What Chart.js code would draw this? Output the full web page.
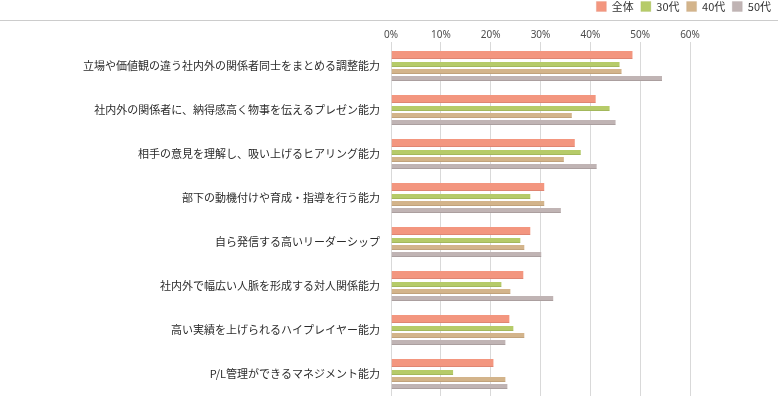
<!DOCTYPE html>
<html>
<head>
<meta charset="utf-8">
<script src="https://cdn.jsdelivr.net/npm/chart.js@4/dist/chart.umd.min.js"></script>
<style>
    html, body { margin: 0; padding: 0; background: #fff; }
    #wrap { width: 778px; height: 399px; }
</style>
</head>
<body>
<div id="wrap"><canvas id="myChart"></canvas></div>
<script>
const categories = [
    '立場や価値観の違う社内外の関係者同士をまとめる調整能力',
    '社内外の関係者に、納得感高く物事を伝えるプレゼン能力',
    '相手の意見を理解し、吸い上げるヒアリング能力',
    '部下の動機付けや育成・指導を行う能力',
    '自ら発信する高いリーダーシップ',
    '社内外で幅広い人脈を形成する対人関係能力',
    '高い実績を上げられるハイプレイヤー能力',
    'P/L管理ができるマネジメント能力'
];
const seriesNames = ['全体', '30代', '40代', '50代'];
const totalValues = [48.5, 41.1, 36.9, 30.8, 28.0, 26.6, 23.8, 20.6];
const age30Values = [45.9, 43.9, 38.1, 28.0, 26.0, 22.2, 24.6, 12.5];
const age40Values = [46.3, 36.3, 34.7, 30.8, 26.8, 24.0, 26.8, 23.0];
const age50Values = [54.4, 45.1, 41.3, 34.1, 30.2, 32.6, 23.0, 23.4];
const xTickMax = 60;
const xTickStep = 10;

// draws the thin grey rule under the legend
const topLinePlugin = {
    id: 'topLine',
    afterDraw(chart) {
        let ctx = chart.ctx;
        ctx.save();
        ctx.strokeStyle = '#cccccc';
        ctx.lineWidth = 1;
        ctx.beginPath();
        ctx.moveTo(0, 20.5);
        ctx.lineTo(chart.width, 20.5);
        ctx.stroke();
        ctx.restore();
    }
};

// per dataset category/bar percentages so the first bar is thicker and the gaps match
function makeDataset(label, data, fill, edge, catPct, thick)
{
    return {
        label: label,
        data: data,
        backgroundColor: fill,
        borderColor: edge,
        borderWidth: { top: 0, left: 0, right: 0, bottom: 1 },
        borderSkipped: false,
        categoryPercentage: catPct,
        barPercentage: 2,
        maxBarThickness: thick
    };
}

let config = {
    type: 'bar',
    plugins: [topLinePlugin],
    data: {
        labels: categories,
        datasets: [
            makeDataset(seriesNames[0], totalValues, '#f3967f', '#df8572', 0.6667, 8),
            makeDataset(seriesNames[1], age30Values, '#b6cb69', '#a3b85c', 0.2727, 5),
            makeDataset(seriesNames[2], age40Values, '#d3b48b', '#c1a27b', 1.0, 5),
            makeDataset(seriesNames[3], age50Values, '#c0b4b4', '#ab9f9f', 0.7576, 5)
        ]
    },
    options: {
        indexAxis: 'y',
        maintainAspectRatio: false,
        responsive: true,
        animation: false,
        layout: {
            padding: { top: -6, right: 0, bottom: 3, left: 0 }
        },
        scales: {
            x: {
                position: 'top',
                min: 0,
                max: xTickMax,
                // plot area starts at y=44 whatever the legend height is
                afterFit: (scale) => { scale.height = 50 - scale.chart.legend.height; },
                border: { display: false },
                grid: { color: '#d9d9d9', lineWidth: 1, drawTicks: true, tickLength: 2 },
                ticks: {
                    stepSize: xTickStep,
                    padding: 1,
                    color: '#4d4d4d',
                    font: { family: 'Noto Sans', size: 10 },
                    callback: (v) => v + '%'
                }
            },
            y: {
                afterFit: (scale) => { scale.width = 391; },
                border: { display: false },
                grid: { display: false, tickLength: 11 },
                ticks: {
                    padding: 0,
                    color: '#2b2b2b',
                    font: { family: 'Noto Sans CJK JP', size: 11, lineHeight: 0.5 }
                }
            },
            // empty axis on the right only to keep space after 60%
            yRight: {
                type: 'category',
                position: 'right',
                afterFit: (scale) => { scale.width = 88; },
                border: { display: false },
                grid: { display: false },
                ticks: { display: false }
            }
        },
        plugins: {
            tooltip: { enabled: false },
            legend: {
                position: 'top',
                align: 'end',
                labels: {
                    boxWidth: 10,
                    boxHeight: 10,
                    padding: 7,
                    color: '#333333',
                    font: { family: 'Noto Sans CJK JP', size: 11 }
                }
            }
        }
    }
};
let chart = new Chart(document.getElementById('myChart'), config);
</script>
</body>
</html>
